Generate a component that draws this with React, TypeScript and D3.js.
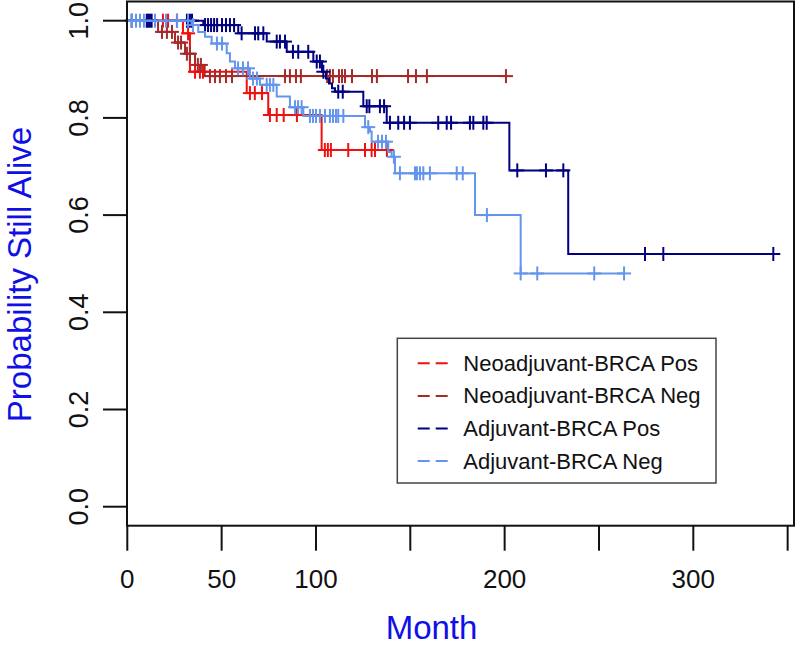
import React from "react";
import * as d3 from "d3";

// ---------- Data ----------
const seriesNames = [
  "Neoadjuvant-BRCA Pos",
  "Neoadjuvant-BRCA Neg",
  "Adjuvant-BRCA Pos",
  "Adjuvant-BRCA Neg",
];
const seriesColors = ["#F01010", "#A52A2A", "#000080", "#6495ED"];

// step times (months) and survival after each step
const neoPosTimes = [0, 29.5, 33.2, 63.3, 74.7, 103];
const neoPosSurv = [1.0, 0.974, 0.895, 0.851, 0.806, 0.734];
const neoPosEnd = 137.6;
const neoPosCensor = [18.9, 21.6, 26.3, 32.2, 35.9, 38.5, 40.1, 65, 67.6, 71.4, 75.6, 79.2, 82.9, 89.9, 104.7, 106.3, 107.9, 117.1, 126, 129.5, 131.3, 137.6];

const neoNegTimes = [0, 16.3, 25.3, 30.6, 35.9, 41];
const neoNegSurv = [1.0, 0.977, 0.955, 0.932, 0.909, 0.886];
const neoNegEnd = 200.7;
const neoNegCensor = [18.4, 21, 23.7, 26.9, 28.5, 31.6, 33.2, 37.4, 39, 43.8, 46.5, 49.1, 52.3, 55.5, 83.6, 86.2, 89.4, 92.0, 105.9, 107.4, 109.0, 112.2, 113.8, 115.4, 119.1, 129.7, 132.3, 148.8, 153.0, 158.8, 200.7];

const adjPosTimes = [0, 40.3, 58.8, 73.9, 84.5, 98.6, 103.2, 105.3, 106.9, 108.5, 110.1, 125.1, 137.5, 202.5, 233.7];
const adjPosSurv = [1.0, 0.991, 0.974, 0.957, 0.936, 0.916, 0.895, 0.881, 0.871, 0.861, 0.854, 0.824, 0.79, 0.692, 0.52];
const adjPosEnd = 342.4;
const adjPosCensor = [2.3, 10.3, 11, 12, 12.9, 31.6, 33.2, 34.3, 41.2, 42.8, 44.4, 46, 47.6, 50.2, 52.3, 54.4, 56.6, 60.6, 67.7, 69.4, 72.1, 79.2, 80.9, 83.6, 87.8, 90.6, 95.9, 100.4, 102.1, 103.9, 111.8, 114.2, 126.9, 128.3, 133.9, 136.1, 139.2, 143.6, 146.7, 149.8, 164.8, 169.3, 171.6, 181.6, 183.4, 188.7, 190.5, 206.7, 221.9, 231.1, 274.4, 284.1, 342.4];

const adjNegTimes = [0, 34.1, 37.6, 41.2, 44.7, 52.7, 54.4, 57.1, 65.0, 70.3, 79.2, 86.2, 93.3, 126, 128.6, 129.5, 138.3, 140.1, 141.9, 184.3, 208.5];
const adjNegSurv = [1.0, 0.991, 0.977, 0.967, 0.953, 0.933, 0.916, 0.902, 0.881, 0.868, 0.844, 0.822, 0.804, 0.781, 0.772, 0.751, 0.73, 0.72, 0.686, 0.6, 0.48];
const adjNegEnd = 263.3;
const adjNegCensor = [2.5, 4.6, 6.7, 8.8, 14.7, 20.5, 26.4, 32.2, 34.8, 47.5, 50.2, 58.7, 61.3, 64, 66.6, 68.7, 73.9, 75.6, 77.4, 88.9, 90.5, 92.4, 96.8, 98.4, 100, 102.1, 104.8, 107.4, 109, 110.6, 111.8, 114.5, 127.7, 132.9, 135, 137.1, 141.3, 144.5, 152.5, 153.5, 155.1, 156.9, 160.4, 174.6, 177.8, 190.6, 208.5, 217.3, 247.5, 263.3];

const xTicks = [0, 50, 100, 150, 200, 250, 300, 350];
const xTickLabels = ["0", "50", "100", "", "200", "", "300", ""];
const yTicks = [0, 0.2, 0.4, 0.6, 0.8, 1.0];
const yTickLabels = ["0.0", "0.2", "0.4", "0.6", "0.8", "1.0"];

const xTitle = "Month";
const yTitle = "Probability Still Alive";

// ---------- Build series ----------
const allTimes = [neoPosTimes, neoNegTimes, adjPosTimes, adjNegTimes];
const allSurv = [neoPosSurv, neoNegSurv, adjPosSurv, adjNegSurv];
const allEnd = [neoPosEnd, neoNegEnd, adjPosEnd, adjNegEnd];
const allCensor = [neoPosCensor, neoNegCensor, adjPosCensor, adjNegCensor];

function survAt(times: number[], surv: number[], t: number) {
  let s = surv[0];
  for (let i = 0; i < times.length; i++) if (times[i] <= t) s = surv[i];
  return s;
}

const FONT = "'Liberation Sans', Arial, Helvetica, sans-serif";

export default function App() {
  const W = 800, H = 646;
  const x = d3.scaleLinear().domain([0, 350]).range([127.3, 127.3 + 350 * 1.8867]);
  const y = d3.scaleLinear().domain([0, 1]).range([506.7, 20.7]);
  const box = { l: 127, r: 794, t: 1.5, b: 525.7 };

  const line = d3
    .line<[number, number]>()
    .x((d) => x(d[0]))
    .y((d) => y(d[1]))
    .curve(d3.curveStepAfter);

  const tickLen = 24;
  const mark = 7;

  return (
    <svg
      width={W}
      height={H}
      style={{ position: "absolute", left: 0, top: 0, background: "#fff" }}
      fontFamily={FONT}
    >
      <rect x={0} y={0} width={W} height={H} fill="#fff" />
      {/* curves */}
      {allTimes.map((times, i) => {
        const pts: [number, number][] = times.map((t, j) => [t, allSurv[i][j]]);
        pts.push([allEnd[i], allSurv[i][allSurv[i].length - 1]]);
        return (
          <g key={i}>
            <path d={line(pts) || ""} fill="none" stroke={seriesColors[i]} strokeWidth={2} />
            {allCensor[i].map((c, k) => {
              const cx = x(c);
              const cy = y(survAt(times, allSurv[i], c));
              return (
                <g key={k} stroke={seriesColors[i]} strokeWidth={2}>
                  <line x1={cx - mark} x2={cx + mark} y1={cy} y2={cy} />
                  <line x1={cx} x2={cx} y1={cy - mark} y2={cy + mark} />
                </g>
              );
            })}
          </g>
        );
      })}
      {/* box */}
      <rect
        x={box.l}
        y={box.t}
        width={box.r - box.l}
        height={box.b - box.t}
        fill="none"
        stroke="#111"
        strokeWidth={2}
      />
      {/* y axis */}
      <g>
        {yTicks.map((t, i) => (
          <g key={i}>
            <line x1={box.l - tickLen} x2={box.l} y1={y(t)} y2={y(t)} stroke="#111" strokeWidth={2} />
            <text
              transform={`translate(88,${y(t)}) rotate(-90)`}
              textAnchor="middle"
              fontSize={27}
              fill="#111"
            >
              {yTickLabels[i]}
            </text>
          </g>
        ))}
      </g>
      {/* x axis */}
      <g>
        {xTicks.map((t, i) => (
          <g key={i}>
            <line x1={x(t)} x2={x(t)} y1={box.b} y2={box.b + 25} stroke="#111" strokeWidth={2} />
            {xTickLabels[i] && (
              <text x={x(t)} y={588.3} textAnchor="middle" fontSize={26} fill="#111">
                {xTickLabels[i]}
              </text>
            )}
          </g>
        ))}
      </g>
      {/* axis titles */}
      <text x={431.5} y={639} textAnchor="middle" fontSize={33} fill="#1010E6">
        {xTitle}
      </text>
      <text
        transform={`translate(31,274.5) rotate(-90)`}
        textAnchor="middle"
        fontSize={33}
        fill="#1010E6"
      >
        {yTitle}
      </text>
      {/* legend */}
      <g>
        <rect x={397.3} y={338.3} width={318.7} height={144.7} fill="#fff" stroke="#444" strokeWidth={1.5} />
        {seriesNames.map((n, i) => {
          const cy = 363.3 + i * 32.6;
          return (
            <g key={i}>
              <line
                x1={417.7}
                x2={448.3}
                y1={cy}
                y2={cy}
                stroke={seriesColors[i]}
                strokeWidth={2}
                strokeDasharray="12 6"
              />
              <text x={463.3} y={cy} dominantBaseline="central" fontSize={22} fill="#111">
                {n}
              </text>
            </g>
          );
        })}
      </g>
    </svg>
  );
}
